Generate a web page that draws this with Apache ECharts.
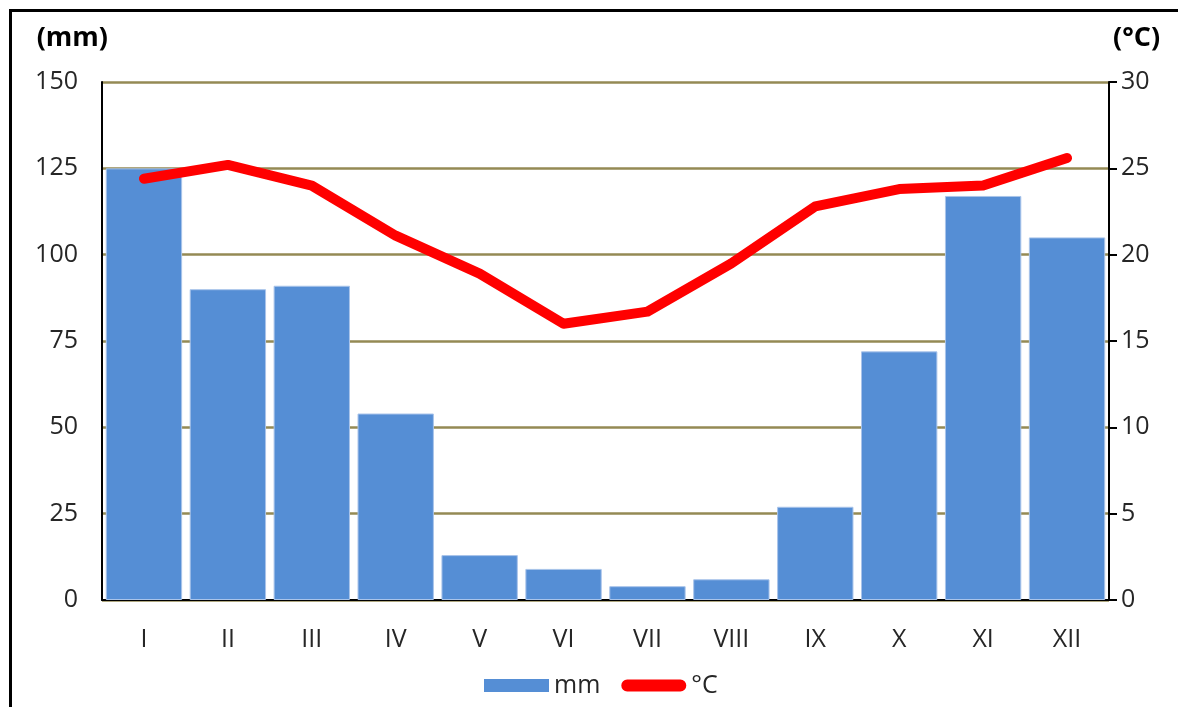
<!DOCTYPE html>
<html><head><meta charset="utf-8">
<script src="https://cdn.jsdelivr.net/npm/echarts@6/dist/echarts.min.js"></script>
<style>
html,body{margin:0;padding:0;background:#fff;}
#c{width:1178px;height:707px;position:relative;}
#frame{position:absolute;left:9px;top:9px;width:1300px;height:800px;border-left:3px solid #000;border-top:3px solid #000;pointer-events:none;}
</style></head>
<body>
<div id="c"></div><div id="frame"></div>
<script>
const months = ['I','II','III','IV','V','VI','VII','VIII','IX','X','XI','XII'];
const precipitation = [125, 90, 91, 54, 13, 9, 4, 6, 27, 72, 117, 105];
const temperature = [24.4, 25.2, 24.0, 21.1, 18.9, 16.0, 16.7, 19.5, 22.8, 23.8, 24.0, 25.6];
const seriesNames = ['mm', '°C'];
const axisNames = ['(mm)', '(°C)'];

const FONT = 'Open Sans';
const FS = 25;
const chart = echarts.init(document.getElementById('c'), null, {renderer:'canvas'});
chart.setOption({
  animation:false,
  backgroundColor:'#fff',
  textStyle:{fontFamily:FONT},
  grid:{left:102, right:69, top:82, bottom:107, containLabel:false},
  legend:{
    bottom:4, left:479,
    itemWidth:65, itemHeight:13, itemGap:21,
    textStyle:{fontFamily:FONT, fontSize:FS, color:'#262626'},
    data:[
      {name:seriesNames[0], icon:'rect', itemStyle:{color:'#558ed5', borderWidth:0}},
      {name:seriesNames[1], icon:'path://M6,0 H60 A6,6 0 0 1 60,12 H6 A6,6 0 0 1 6,0 Z', itemStyle:{color:'#ff0000', borderWidth:0}}
    ]
  },
  xAxis:{
    type:'category', data:months,
    axisLine:{lineStyle:{color:'#000', width:2}},
    axisTick:{show:false},
    axisLabel:{fontFamily:FONT, fontSize:FS, color:'#262626', margin:27}
  },
  yAxis:[{
    type:'value', min:0, max:150, interval:25,
    name:axisNames[0], nameLocation:'end', nameGap:30,
    nameTextStyle:{fontFamily:FONT, fontSize:27, fontWeight:'bold', color:'#000', align:'right', padding:[0,-6,0,0]},
    axisLine:{show:true, lineStyle:{color:'#000', width:2}},
    axisTick:{show:false},
    axisLabel:{fontFamily:FONT, fontSize:FS, color:'#262626', margin:24},
    splitLine:{lineStyle:{color:'#948a54', width:2.5}}
  },{
    type:'value', min:0, max:30, interval:5, position:'right',
    name:axisNames[1], nameLocation:'end', nameGap:30,
    nameTextStyle:{fontFamily:FONT, fontSize:27, fontWeight:'bold', color:'#000', align:'left', padding:[0,0,0,4]},
    axisLine:{show:true, lineStyle:{color:'#000', width:2}},
    axisTick:{show:true, inside:false, length:8, lineStyle:{color:'#000', width:2}},
    axisLabel:{fontFamily:FONT, fontSize:FS, color:'#262626', margin:12},
    splitLine:{show:false}
  }],
  series:[{
    name:seriesNames[0], type:'bar', data:precipitation, yAxisIndex:0,
    barCategoryGap:'9%',
    itemStyle:{color:'#558ed5', borderColor:'#a9c4ea', borderWidth:1}
  },{
    name:seriesNames[1], type:'line', data:temperature, yAxisIndex:1,
    symbol:'none', showSymbol:false,
    lineStyle:{color:'#ff0000', width:10, cap:'round', join:'round'},
    itemStyle:{color:'#ff0000'}
  }]
});
</script>
</body></html>
